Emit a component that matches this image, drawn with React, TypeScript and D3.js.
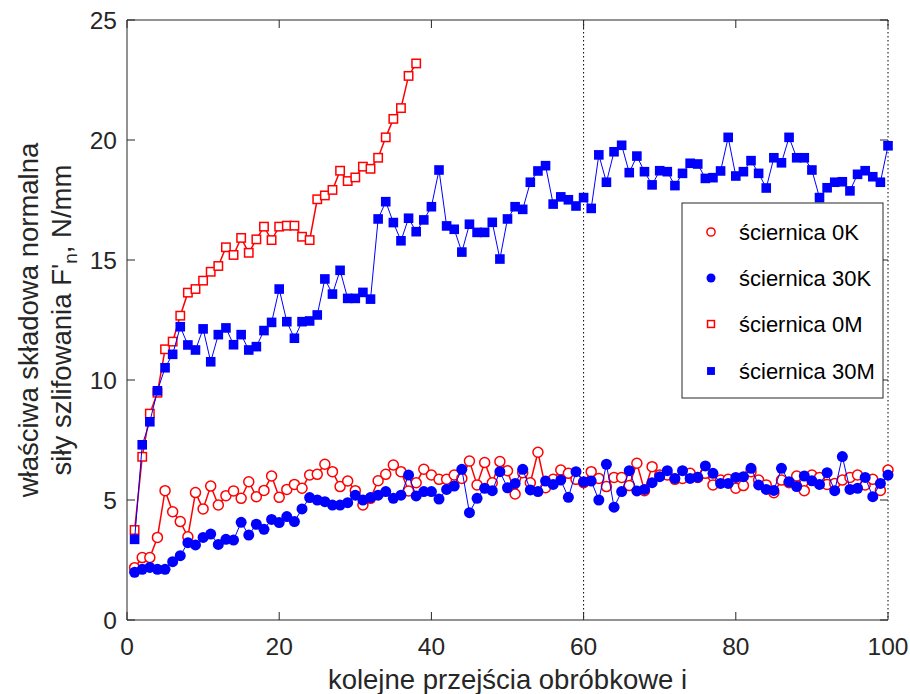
import React from "react";
import * as d3 from "d3";

// Data: x = 1..N (kolejne przejścia)
const k0 = [2.18, 2.6, 2.6, 3.44, 5.39, 4.51, 4.1, 3.47, 5.31, 4.63, 5.58, 4.79, 5.18, 5.38, 5.07, 5.76, 5.14, 5.4, 6.0, 5.11,
  5.44, 5.65, 5.49, 6.04, 6.07, 6.49, 6.18, 5.56, 5.79, 5.39, 4.79, 5.07, 5.8, 6.07, 6.46, 6.18, 5.38, 5.72, 6.28, 6.04,
  5.86, 5.86, 6.04, 5.9, 6.62, 5.63, 6.56, 5.72, 6.6, 6.22, 5.25, 6.14, 5.72, 6.99, 5.51, 5.86, 6.25, 6.11, 5.86, 5.72,
  6.18, 5.9, 5.56, 5.94, 5.94, 5.6, 6.53, 5.39, 6.39, 6.04, 6.04, 5.86, 5.9, 6.11, 5.94, 6.11, 5.63, 5.83, 5.86, 5.49,
  5.6, 6.18, 5.83, 5.63, 5.3, 5.83, 5.72, 6.0, 5.39, 6.04, 5.94, 5.65, 5.69, 5.83, 5.94, 6.04, 5.63, 5.86, 5.4, 6.25];
const k30 = [1.99, 2.11, 2.19, 2.11, 2.11, 2.43, 2.68, 3.22, 3.13, 3.44, 3.58, 3.15, 3.36, 3.33, 4.07, 3.54, 3.99, 3.78, 4.19, 4.06,
  4.31, 4.1, 4.63, 5.1, 5.0, 4.93, 4.79, 4.79, 4.89, 5.2, 5.0, 5.1, 5.2, 5.35, 5.07, 5.2, 6.04, 5.17, 5.35, 5.35,
  5.04, 5.44, 5.58, 6.28, 4.47, 5.07, 5.49, 5.39, 6.18, 5.51, 5.69, 6.28, 5.42, 5.35, 5.79, 5.65, 5.83, 5.11, 6.18, 5.76,
  5.79, 5.0, 6.49, 4.7, 5.35, 6.22, 5.38, 5.44, 5.72, 5.97, 6.22, 5.9, 6.22, 5.9, 5.95, 6.42, 6.11, 5.69, 5.69, 5.94,
  5.97, 6.32, 5.63, 5.44, 5.4, 6.32, 5.76, 5.56, 6.0, 5.8, 5.65, 6.14, 5.39, 6.81, 5.44, 5.49, 5.94, 5.14, 5.69, 6.04];
const m0 = [3.75, 6.8, 8.6, 9.47, 11.28, 11.6, 12.68, 13.64, 13.79, 14.14, 14.51, 14.75, 15.53, 15.21, 15.92, 15.3, 15.86, 16.39, 15.83, 16.39,
  16.43, 16.43, 15.97, 15.83, 17.53, 17.69, 17.92, 18.72, 18.29, 18.44, 18.89, 18.8, 19.26, 20.11, 20.88, 21.33, 22.67, 23.19];
const m30 = [3.36, 7.3, 8.26, 9.55, 10.51, 11.07, 12.22, 11.46, 11.25, 12.13, 10.76, 11.89, 12.17, 11.47, 11.89, 11.25, 11.39, 12.06, 12.4, 13.79,
  12.43, 11.74, 12.43, 12.46, 12.71, 14.21, 13.58, 14.57, 13.4, 13.4, 13.65, 13.37, 16.71, 17.43, 16.56, 15.8, 16.74, 16.18, 16.67, 17.22,
  18.75, 16.42, 16.28, 15.33, 16.49, 16.15, 16.15, 16.57, 15.04, 16.71, 17.22, 17.11, 18.24, 18.71, 18.93, 17.33, 17.63, 17.51, 17.25, 17.6,
  17.15, 19.38, 18.24, 19.51, 19.78, 18.64, 19.33, 18.68, 18.13, 18.72, 18.68, 18.1, 18.61, 19.03, 19.0, 18.4, 18.43, 18.71, 20.11, 18.5,
  18.68, 19.14, 18.61, 18.0, 19.26, 19.05, 20.11, 19.26, 19.26, 18.75, 17.6, 18.01, 18.24, 18.26, 17.88, 18.57, 18.72, 18.47, 18.24, 19.76];

const xTicks = [0, 20, 40, 60, 80, 100];
const yTicks = [0, 5, 10, 15, 20, 25];
const vLines = [60, 100];
const legendLabels = ["ściernica 0K", "ściernica 30K", "ściernica 0M", "ściernica 30M"];
const xLabel = "kolejne przejścia obróbkowe i";
const yLabel1 = "właściwa składowa normalna";

const RED = "#ff0000";
const BLUE = "#0000ff";
const AX = "#262626";
const FONT = "'Liberation Sans', Arial, Helvetica, sans-serif";

export default function App() {
  const W = 910, H = 694;
  const x = d3.scaleLinear().domain([0, 100]).range([127, 888]);
  const y = d3.scaleLinear().domain([0, 25]).range([620, 20]);
  const toPts = (arr: number[]) => arr.map((v, i) => [i + 1, v] as [number, number]);
  const line = d3.line<[number, number]>().x(d => x(d[0])).y(d => y(d[1]));
  const [x0, x1] = x.range();
  const [y0, y1] = y.range();
  const tl = 8;

  const series = [
    { data: toPts(k0), color: RED, lw: 1.5, marker: "circle-open" },
    { data: toPts(k30), color: BLUE, lw: 1, marker: "circle-fill" },
    { data: toPts(m0), color: RED, lw: 1.5, marker: "square-open" },
    { data: toPts(m30), color: BLUE, lw: 1, marker: "square-fill" },
  ];

  const marker = (type: string, cx: number, cy: number, key: any, small = false) => {
    const s = small ? 0.82 : 1;
    if (type === "circle-open") return <circle key={key} cx={cx} cy={cy} r={5 * s} fill="#fff" stroke={RED} strokeWidth={1.5} />;
    if (type === "circle-fill") return <circle key={key} cx={cx} cy={cy} r={5.5 * s} fill={BLUE} />;
    if (type === "square-open") { const h = 4.2 * s; return <rect key={key} x={cx - h} y={cy - h} width={2 * h} height={2 * h} fill="#fff" stroke={RED} strokeWidth={1.5} />; }
    const h = 4.8 * s; return <rect key={key} x={cx - h} y={cy - h} width={2 * h} height={2 * h} fill={BLUE} />;
  };

  const lg = { x: 682, y: 203, w: 201, h: 195 };
  const rowY = [232, 278, 324, 371];

  return (
    <div style={{ position: "fixed", left: 0, top: 0, width: W, height: H, background: "#fff" }}>
      <svg width={W} height={H} style={{ display: "block", fontFamily: FONT }}>
        <rect x={0} y={0} width={W} height={H} fill="#fff" />
        {vLines.map(v => (
          <line key={v} x1={x(v)} x2={x(v)} y1={y1} y2={y0} stroke="#000" strokeWidth={1} strokeDasharray="1.5,2.5" />
        ))}
        <line x1={x0} x2={x0} y1={y1} y2={y0} stroke={AX} strokeWidth={1} />
        <line x1={x0} x2={x1} y1={y0} y2={y0} stroke={AX} strokeWidth={1} />
        <line x1={x0} x2={x1} y1={y1} y2={y1} stroke={AX} strokeWidth={1} />
        {xTicks.map(t => (
          <g key={"xt" + t}>
            <line x1={x(t)} x2={x(t)} y1={y0} y2={y0 - tl} stroke={AX} />
            <line x1={x(t)} x2={x(t)} y1={y1} y2={y1 + tl} stroke={AX} />
            <text x={x(t)} y={655} textAnchor="middle" fontSize={24.5} fill={AX}>{t}</text>
          </g>
        ))}
        {yTicks.map(t => (
          <g key={"yt" + t}>
            <line x1={x0} x2={x0 + tl} y1={y(t)} y2={y(t)} stroke={AX} />
            <line x1={x1} x2={x1 - tl} y1={y(t)} y2={y(t)} stroke={AX} />
            <text x={117} y={y(t) + 8.5} textAnchor="end" fontSize={24.5} fill={AX}>{t}</text>
          </g>
        ))}
        {series.map((s, si) => (
          <g key={"s" + si}>
            <path d={line(s.data) || ""} fill="none" stroke={s.color} strokeWidth={s.lw} />
            {s.data.map((d, i) => marker(s.marker, x(d[0]), y(d[1]), i))}
          </g>
        ))}
        <text x={(x0 + x1) / 2} y={689} textAnchor="middle" fontSize={27.5} fill={AX}>{xLabel}</text>
        <g transform={`translate(38,${(y0 + y1) / 2}) rotate(-90)`}>
          <text x={0} y={0} textAnchor="middle" fontSize={27.5} fill={AX}>{yLabel1}</text>
        </g>
        <g transform={`translate(71,${(y0 + y1) / 2}) rotate(-90)`}>
          <text x={0} y={0} textAnchor="middle" fontSize={27.5} fill={AX}>
            siły szlifowania F'<tspan fontSize={19} dy={6}>n</tspan><tspan dy={-6}>, N/mm</tspan>
          </text>
        </g>
        <rect x={lg.x} y={lg.y} width={lg.w} height={lg.h} fill="#fff" stroke={AX} strokeWidth={1} />
        {legendLabels.map((lab, i) => (
          <g key={"lg" + i}>
            {marker(series[i].marker, 711, rowY[i], "m" + i, true)}
            <text x={739} y={rowY[i] + 8} fontSize={22} fill="#000">{lab}</text>
          </g>
        ))}
      </svg>
    </div>
  );
}
